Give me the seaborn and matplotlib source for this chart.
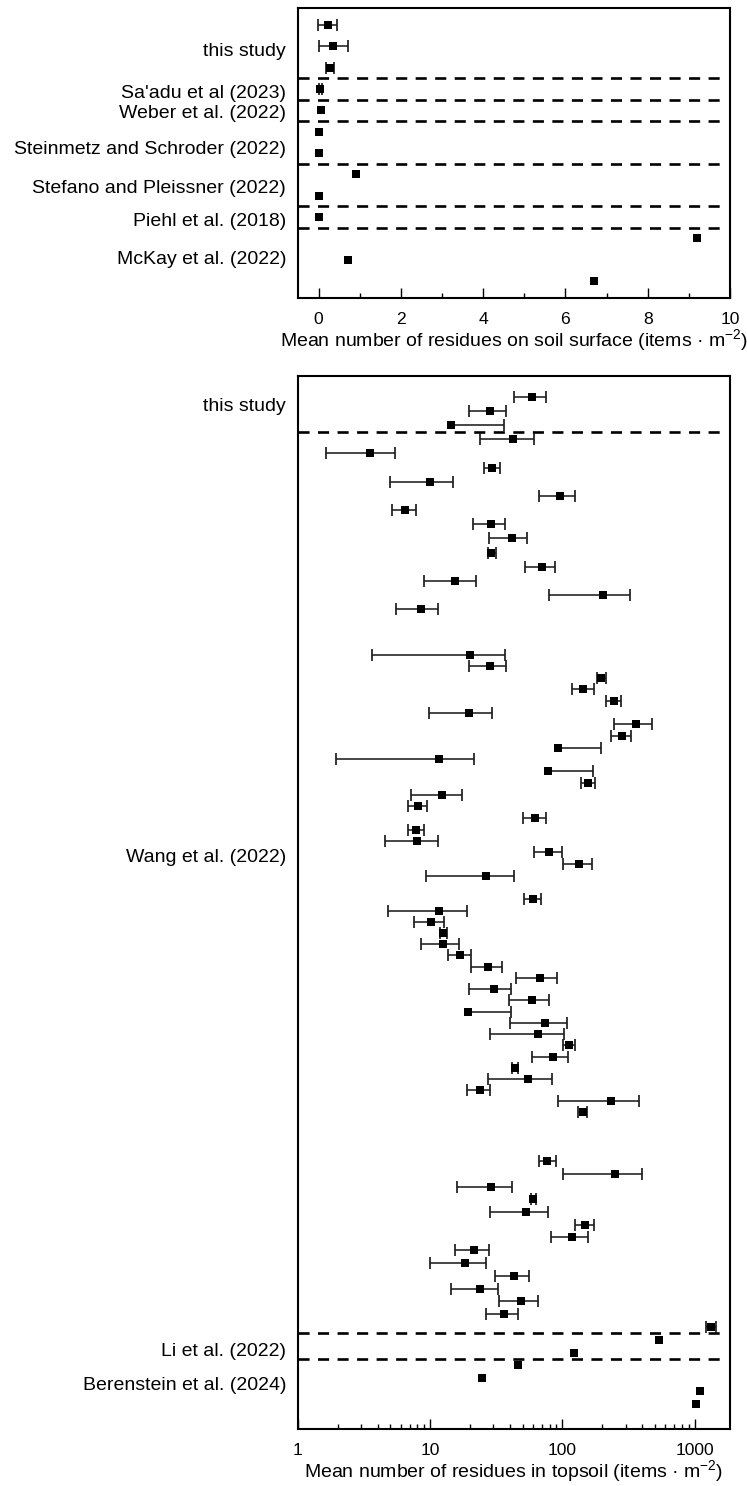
import numpy as np
import pandas as pd
import matplotlib
matplotlib.use("Agg")
import matplotlib.pyplot as plt
import seaborn as sns
from matplotlib.ticker import MultipleLocator, FixedLocator, LogLocator, NullFormatter

nan = np.nan

# ---------------- soil surface residues (items m^-2) ----------------
surf_group = (["this study"] * 3 + ["Sa'adu et al (2023)"] + ["Weber et al. (2022)"]
              + ["Steinmetz and Schroder (2022)"] * 2 + ["Stefano and Pleissner (2022)"] * 2
              + ["Piehl et al. (2018)"] + ["McKay et al. (2022)"] * 3)
surf_row = list(range(13))
surf_mean = [0.22, 0.36, 0.28, 0.04, 0.06, 0.0, 0.0, 0.91, 0.02, 0.02, 9.19, 0.71, 6.69]
surf_low = [-0.02, 0.02, 0.18, 0.0, nan, nan, nan, nan, nan, nan, nan, nan, nan]
surf_high = [0.46, 0.71, 0.37, 0.09, nan, nan, nan, nan, nan, nan, nan, nan, nan]
surf_label_names = ["this study", "Sa'adu et al (2023)", "Weber et al. (2022)",
                    "Steinmetz and Schroder (2022)", "Stefano and Pleissner (2022)",
                    "Piehl et al. (2018)", "McKay et al. (2022)"]
surf_label_pos = [1.15, 3.1, 4.05, 5.75, 7.55, 9.1, 10.9]

# ---------------- topsoil residues (items m^-2) ----------------
top_group = (["this study"] * 3 + ["Wang et al. (2022)"] * 67
             + ["Li et al. (2022)"] * 2 + ["Berenstein et al. (2024)"] * 4)
top_row = [1.72, 2.92, 4.08,
           5.28, 6.44, 7.64, 8.81, 10.0, 11.17, 12.36, 13.53, 14.72, 15.89, 17.08, 18.28, 19.44,
           23.25, 24.19, 25.14, 26.11, 27.08, 28.11, 29.03, 30.0, 31.0, 31.94, 32.94, 33.92,
           34.89, 35.86, 36.83, 37.81, 38.75, 39.69, 40.69, 41.67,
           43.61, 44.56, 45.5, 46.39, 47.36, 48.28, 49.22, 50.17, 51.11, 52.03, 53.0, 53.89,
           54.81, 55.78, 56.72, 57.64, 58.58, 59.5, 60.42, 61.36,
           65.42, 66.47, 67.56, 68.61, 69.67, 70.72, 71.78, 72.83, 73.92, 75.0, 76.06, 77.11,
           78.19, 79.25,
           80.33, 81.44,
           82.44, 83.53, 84.56, 85.64]
top_mean = [58.4, 28.5, 14.3,
            42.4, 3.5, 29.4, 9.94, 95.9, 6.46, 28.7, 41.2, 29.0, 69.5, 15.5, 201, 8.54,
            19.9, 28.2, 197, 144, 244, 19.5, 360, 282, 93.1, 11.6, 78.2, 157,
            12.3, 8.15, 61.9, 7.87, 7.96, 79.6, 134, 26.3,
            60.1, 11.7, 10.2, 12.6, 12.4, 16.9, 27.4, 67.2, 30.2, 59.1, 19.3, 73.4,
            65.0, 112, 84.4, 43.6, 54.8, 23.6, 234, 142,
            76.8, 250, 28.7, 59.8, 52.6, 149, 119, 21.3, 18.2, 42.9, 23.6, 48.8,
            36.0, 1336,
            535, 122,
            45.8, 24.8, 1089, 1028]
top_low = [42.9, 19.8, nan,
           24.0, 1.64, 25.4, 4.97, 66.4, 5.17, 20.9, 28.0, 27.2, 51.7, 8.95, 78.7, 5.48,
           3.6, 19.6, 181, 118, 213, 9.8, 244, 233, nan, 1.93, nan, 138,
           7.13, 6.84, 49.9, 6.84, 4.58, 60.9, 101, 9.26,
           51.1, 4.83, 7.6, 11.9, 8.54, 13.6, 20.2, 44.7, 19.5, 39.3, nan, 39.8,
           28.2, 101, 58.4, 41.2, 27.2, 19.0, 92.6, 131,
           66.4, 101, 15.9, 57.4, 28.2, 124, 81.9, 15.5, 10.0, 30.8, 14.4, 33.0,
           26.4, 1211,
           nan, nan,
           nan, nan, nan, nan]
top_high = [74.7, 37.5, 36.0,
            61.2, 5.42, 33.6, 14.9, 124.6, 7.83, 36.7, 53.9, 31.2, 87.4, 22.0, 324, 11.5,
            36.7, 37.1, 214, 172, 279, 29.2, 476, 332, 197, 21.6, 170, 177,
            17.5, 9.42, 74.7, 8.9, 11.5, 98.8, 167, 43.1,
            69.2, 18.9, 12.8, 13.4, 16.4, 20.5, 34.6, 90.5, 41.0, 78.7, 40.7, 108,
            103, 124, 111, 46.3, 83.8, 28.4, 377, 153,
            89.0, 397, 41.9, 62.7, 77.8, 174, 157, 27.7, 26.6, 55.8, 32.6, 65.0,
            46.3, 1459,
            nan, nan,
            nan, nan, nan, nan]
top_label_names = ["this study", "Wang et al. (2022)", "Li et al. (2022)", "Berenstein et al. (2024)"]
top_label_pos = [2.36, 40.0, 81.1, 84.0]

# ---------------- style ----------------
sns.set_theme(style="white")
plt.rcParams["font.family"] = ["Liberation Sans", "DejaVu Sans"]
plt.rcParams["mathtext.fontset"] = "custom"
plt.rcParams["mathtext.rm"] = "Liberation Sans"
plt.rcParams["mathtext.it"] = "Liberation Sans:italic"
plt.rcParams["mathtext.default"] = "regular"

BAR = "#1e1e1e"
DASH = (0, (4.2, 3.2))


def draw_panel(ax, group, row, mean, low, high):
    df = pd.DataFrame({"group": group, "row": row, "mean": mean, "low": low, "high": high})
    with_hi = df.dropna(subset=["high"])
    start = with_hi["low"].fillna(with_hi["mean"])
    ax.hlines(with_hi["row"], start, with_hi["high"], colors=BAR, lw=1.15, zorder=2)
    ax.plot(with_hi["high"], with_hi["row"], ls="none", marker="|", ms=9.0, mew=1.25,
            color=BAR, zorder=2)
    with_lo = df.dropna(subset=["low"])
    ax.plot(with_lo["low"], with_lo["row"], ls="none", marker="|", ms=9.0, mew=1.25,
            color=BAR, zorder=2)
    sns.scatterplot(data=df, x="mean", y="row", marker="s", s=40, color="black",
                    linewidth=0, ax=ax, zorder=3, legend=False)
    # dashed separators between studies
    for i in range(len(df) - 1):
        if df["group"].iloc[i] != df["group"].iloc[i + 1]:
            y = (df["row"].iloc[i] + df["row"].iloc[i + 1]) / 2
            ax.axhline(y, xmin=0, xmax=0.977, color="black", lw=1.9, ls=DASH, zorder=1)


def style_axes(ax):
    for sp in ax.spines.values():
        sp.set_visible(True)
        sp.set_color("black")
        sp.set_linewidth(1.5)
    ax.tick_params(axis="x", which="major", direction="in", length=7.2, width=1.0,
                   color="black", bottom=True, top=False, labelsize=12.6, pad=10,
                   labelcolor="black")
    ax.tick_params(axis="x", which="minor", direction="in", length=3.6, width=1.0,
                   color="black", bottom=True, top=False)
    ax.tick_params(axis="y", which="both", length=0, left=False, labelsize=14, pad=8.6,
                   labelcolor="black")
    ax.set_ylabel("")


fig = plt.figure(figsize=(7.47, 14.86), dpi=100)
W, H = 747, 1486

# ---- upper panel: soil surface ----
ax1 = fig.add_axes([298 / W, 1 - 298 / H, 432 / W, 290 / H])
draw_panel(ax1, surf_group, surf_row, surf_mean, surf_low, surf_high)
ax1.set_xlim(-0.5, 10)
ax1.set_ylim(12.8, -0.8)
ax1.xaxis.set_major_locator(MultipleLocator(2))
ax1.xaxis.set_minor_locator(MultipleLocator(1))
ax1.set_yticks(surf_label_pos)
ax1.set_yticklabels(surf_label_names)
style_axes(ax1)
ax1.set_xlabel("Mean number of residues on soil surface (items · m$^{-2}$)",
               fontsize=14, labelpad=0, color="black")

# ---- lower panel: topsoil ----
ax2 = fig.add_axes([298 / W, 1 - 1429 / H, 432 / W, 1053 / H])
draw_panel(ax2, top_group, top_row, top_mean, top_low, top_high)
ax2.set_xscale("log")
ax2.set_xlim(1, 1850)
ax2.set_ylim(87.75, 0)
ax2.xaxis.set_major_locator(FixedLocator([1, 10, 100, 1000]))
ax2.set_xticklabels(["1", "10", "100", "1000"])
ax2.xaxis.set_minor_locator(LogLocator(base=10, subs=np.arange(2, 10)))
ax2.xaxis.set_minor_formatter(NullFormatter())
ax2.set_yticks(top_label_pos)
ax2.set_yticklabels(top_label_names)
style_axes(ax2)
ax2.set_xlabel("Mean number of residues in topsoil (items · m$^{-2}$)",
               fontsize=14, labelpad=0, color="black")

fig.savefig("out.png", dpi=100, facecolor="white")
